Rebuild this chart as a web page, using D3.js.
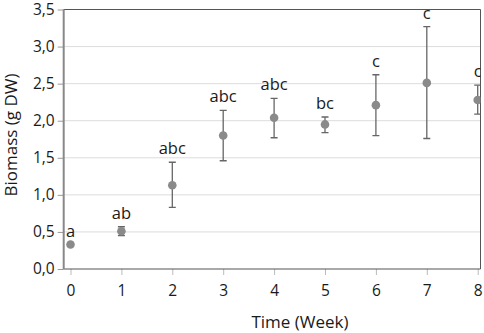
<!DOCTYPE html>
<html>
<head>
<meta charset="utf-8">
<script src="https://cdn.jsdelivr.net/npm/d3@7"></script>
<style>
  body { margin: 0; background: #fff; }
  text { font-family: "Open Sans", sans-serif; }
</style>
</head>
<body>
<div id="chart"></div>
<script>
const weeks = [0, 1, 2, 3, 4, 5, 6, 7, 8];
const biomass = [0.33, 0.51, 1.13, 1.80, 2.04, 1.95, 2.21, 2.51, 2.28];
const errLow = [0.33, 0.45, 0.83, 1.46, 1.77, 1.84, 1.80, 1.76, 2.09];
const errHigh = [0.33, 0.57, 1.44, 2.14, 2.30, 2.05, 2.62, 3.27, 2.48];
const letters = ['a', 'ab', 'abc', 'abc', 'abc', 'bc', 'c', 'c', 'c'];
const yTicks = [0, 0.5, 1, 1.5, 2, 2.5, 3, 3.5];

const width = 484;
const height = 333;
const plot = { left: 63.7, right: 480.5, top: 9.5, bottom: 269 };

const data = weeks.map((w, i) => ({
    week: w, mean: biomass[i], lo: errLow[i], hi: errHigh[i], label: letters[i]
}));

const svg = d3
    .select('#chart')
    .append('svg')
    .attr('width', width)
    .attr('height', height);

const x = d3.scaleLinear().domain([0, 8]).range([70.5, 477.7]);
const y = d3.scaleLinear().domain([0, 3.5]).range([plot.bottom, plot.top]);

const fmt = d => d3.format('.1f')(d).replace('.', ',');

// gridlines
svg.append('g')
    .selectAll('line')
    .data(yTicks.slice(1, -1))
    .join('line')
    .attr('x1', plot.left)
    .attr('x2', plot.right)
    .attr('y1', d => y(d))
    .attr('y2', d => y(d))
    .attr('stroke', '#dcdcdc')
    .attr('stroke-width', 1);

// y axis
const yAxis = svg.append('g')
    .attr('transform', `translate(${plot.left},0)`)
    .call(d3.axisLeft(y).tickValues(yTicks).tickFormat(fmt).tickSize(6).tickPadding(3));
yAxis.select('.domain').remove();
yAxis.selectAll('.tick line').attr('stroke', '#999');
yAxis.selectAll('.tick text')
    .attr('fill', '#1a1a1a')
    .style('font-size', '15.5px')
    .style('font-family', '"Open Sans", sans-serif');

// x axis
const xAxis = svg.append('g')
    .attr('transform', `translate(0,${plot.bottom})`)
    .call(d3.axisBottom(x).tickValues(weeks).tickFormat(d3.format('d')).tickSize(6).tickPadding(10));
xAxis.select('.domain').remove();
xAxis.selectAll('.tick line').attr('stroke', '#bbb');
xAxis.selectAll('.tick text')
    .attr('fill', '#1a1a1a')
    .style('font-size', '15.5px')
    .style('font-family', '"Open Sans", sans-serif');

// frame
svg.append('line')
    .attr('x1', plot.left).attr('x2', plot.right)
    .attr('y1', plot.top).attr('y2', plot.top)
    .attr('stroke', '#555').attr('stroke-width', 1);
svg.append('line')
    .attr('x1', plot.right).attr('x2', plot.right)
    .attr('y1', plot.top).attr('y2', plot.bottom)
    .attr('stroke', '#555').attr('stroke-width', 1);
svg.append('line')
    .attr('x1', plot.left).attr('x2', plot.right)
    .attr('y1', plot.bottom).attr('y2', plot.bottom)
    .attr('stroke', '#555').attr('stroke-width', 1.2);
svg.append('line')
    .attr('x1', plot.left).attr('x2', plot.left)
    .attr('y1', plot.top).attr('y2', plot.bottom)
    .attr('stroke', '#888').attr('stroke-width', 2);

svg.append('clipPath')
    .attr('id', 'clip')
    .append('rect')
    .attr('x', plot.left)
    .attr('y', 0)
    .attr('width', plot.right - plot.left)
    .attr('height', plot.bottom);

const marks = svg.append('g').attr('clip-path', 'url(#clip)');

// error bars
const bars = marks.selectAll('.err')
    .data(data.filter(d => d.hi - d.lo > 0.02))
    .join('g')
    .attr('class', 'err')
    .attr('stroke', '#666')
    .attr('stroke-width', 1.3);
bars.append('line')
    .attr('x1', d => x(d.week)).attr('x2', d => x(d.week))
    .attr('y1', d => y(d.lo)).attr('y2', d => y(d.hi));
bars.append('line')
    .attr('x1', d => x(d.week) - 3.5).attr('x2', d => x(d.week) + 3.5)
    .attr('y1', d => y(d.lo)).attr('y2', d => y(d.lo));
bars.append('line')
    .attr('x1', d => x(d.week) - 3.5).attr('x2', d => x(d.week) + 3.5)
    .attr('y1', d => y(d.hi)).attr('y2', d => y(d.hi));

// mean points
marks.selectAll('circle')
    .data(data)
    .join('circle')
    .attr('cx', d => x(d.week))
    .attr('cy', d => y(d.mean))
    .attr('r', 4.3)
    .attr('fill', '#8a8a8a');

// significance letters
marks.selectAll('.letter')
    .data(data)
    .join('text')
    .attr('class', 'letter')
    .attr('x', d => x(d.week))
    .attr('y', d => y(d.hi) - 8)
    .attr('text-anchor', 'middle')
    .attr('fill', '#1a1a1a')
    .style('font-size', '16.5px')
    .text(d => d.label);

// axis titles
svg.append('text')
    .attr('x', 300)
    .attr('y', 328)
    .attr('text-anchor', 'middle')
    .attr('fill', '#1a1a1a')
    .style('font-size', '17px')
    .text('Time (Week)');

svg.append('text')
    .attr('transform', 'translate(17,135) rotate(-90)')
    .attr('text-anchor', 'middle')
    .attr('fill', '#1a1a1a')
    .style('font-size', '17px')
    .text('Biomass (g DW)');
</script>
</body>
</html>
